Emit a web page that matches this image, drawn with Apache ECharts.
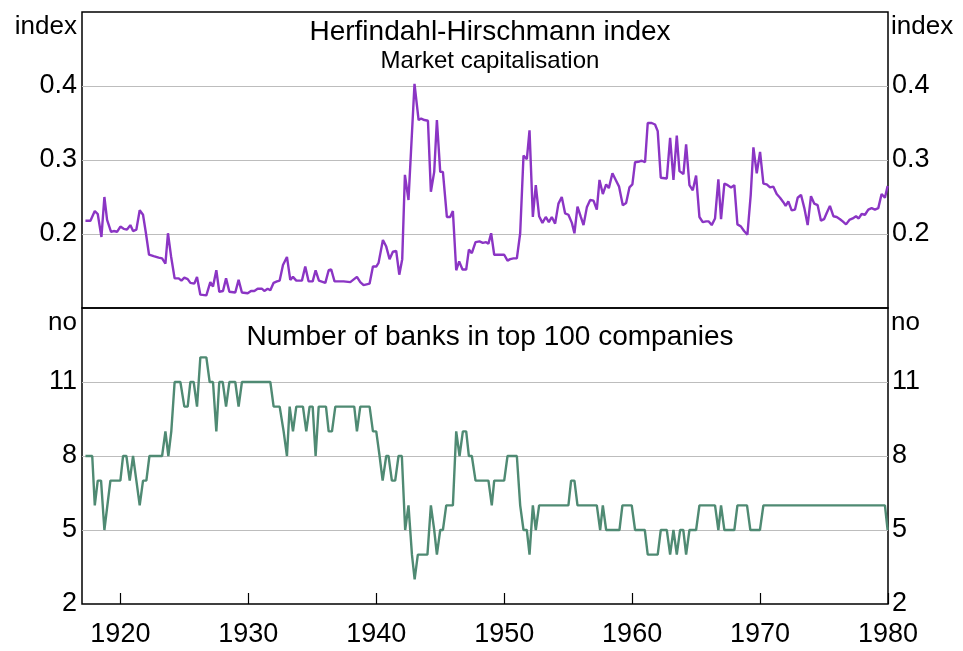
<!DOCTYPE html>
<html>
<head>
    <meta charset="utf-8">
    <title>HHI and number of banks</title>
    <script type="text/javascript" src="https://cdn.jsdelivr.net/npm/echarts@6/dist/echarts.min.js"></script>
    <style>
        body { margin: 0; background: #fff; }
    </style>
</head>
<body>
    <div id="main" style="width:963px; height:651px;"></div>
    <script type="text/javascript">

    // 上图：HHI（市值）
    var hhiYears = [
        1917.27, 1917.66, 1918.0, 1918.23, 1918.52, 1918.75, 1918.96, 1919.27, 1919.48, 1919.74,
        1920.0, 1920.26, 1920.52, 1920.78, 1920.99, 1921.25, 1921.51, 1921.77, 1921.98, 1922.24,
        1922.6, 1922.99, 1923.26, 1923.52, 1923.72, 1923.96, 1924.24, 1924.56, 1924.77, 1925.0,
        1925.26, 1925.47, 1925.78, 1925.99, 1926.25, 1926.72, 1927.03, 1927.24, 1927.5, 1927.73,
        1928.02, 1928.26, 1928.52, 1928.98, 1929.24, 1929.5, 1929.95, 1930.21, 1930.47, 1930.73,
        1931.07, 1931.25, 1931.51, 1931.72, 1931.98, 1932.24, 1932.45, 1932.71, 1933.02, 1933.28,
        1933.49, 1933.75, 1934.19, 1934.45, 1934.71, 1935.03, 1935.26, 1935.52, 1936.02, 1936.28,
        1936.48, 1936.74, 1937.45, 1937.97, 1938.49, 1938.75, 1939.01, 1939.48, 1939.74, 1940.0,
        1940.18, 1940.52, 1940.78, 1941.04, 1941.3, 1941.56, 1941.8, 1942.03, 1942.24, 1942.52,
        1942.99, 1943.31, 1943.51, 1943.77, 1944.04, 1944.27, 1944.53, 1944.74, 1945.0, 1945.21,
        1945.52, 1945.78, 1945.99, 1946.25, 1946.48, 1946.74, 1947.03, 1947.24, 1947.47, 1947.76,
        1948.07, 1948.33, 1948.59, 1948.77, 1948.98, 1949.22, 1949.69, 1950.0, 1950.26, 1950.47,
        1950.73, 1950.99, 1951.25, 1951.51, 1951.77, 1951.98, 1952.24, 1952.47, 1952.73, 1952.99,
        1953.25, 1953.49, 1953.72, 1953.98, 1954.24, 1954.5, 1954.76, 1955.02, 1955.29, 1955.49,
        1955.73, 1955.99, 1956.2, 1956.46, 1956.72, 1956.98, 1957.24, 1957.45, 1957.71, 1957.97,
        1958.18, 1958.46, 1958.72, 1958.98, 1959.27, 1959.53, 1959.79, 1960.02, 1960.23, 1960.57,
        1960.75, 1961.01, 1961.22, 1961.53, 1961.79, 1962.0, 1962.24, 1962.71, 1962.97, 1963.23,
        1963.49, 1963.7, 1964.01, 1964.22, 1964.48, 1964.74, 1965.0, 1965.26, 1965.52, 1965.78,
        1965.99, 1966.22, 1966.48, 1966.74, 1966.95, 1967.21, 1967.47, 1967.73, 1967.99, 1968.23,
        1968.51, 1968.75, 1969.01, 1969.27, 1969.48, 1969.74, 1970.0, 1970.26, 1970.52, 1970.78,
        1971.04, 1971.3, 1971.56, 1971.82, 1972.0, 1972.21, 1972.47, 1972.73, 1972.94, 1973.2,
        1973.46, 1973.72, 1973.98, 1974.24, 1974.5, 1974.76, 1975.0, 1975.2, 1975.46, 1975.73,
        1975.99, 1976.25, 1976.46, 1976.72, 1976.98, 1977.24, 1977.5, 1977.71, 1977.94, 1978.2,
        1978.46, 1978.72, 1978.98, 1979.24, 1979.5, 1979.76, 1979.97
    ];
    var hhiValues = [
        0.218, 0.218, 0.231, 0.227, 0.196, 0.250, 0.219, 0.203, 0.204, 0.203,
        0.210, 0.207, 0.206, 0.212, 0.204, 0.206, 0.232, 0.226, 0.203, 0.172,
        0.170, 0.168, 0.167, 0.160, 0.201, 0.170, 0.140, 0.140, 0.137, 0.141,
        0.139, 0.134, 0.133, 0.142, 0.118, 0.117, 0.135, 0.129, 0.151, 0.122,
        0.123, 0.140, 0.122, 0.121, 0.138, 0.121, 0.120, 0.123, 0.123, 0.126,
        0.126, 0.123, 0.126, 0.124, 0.134, 0.136, 0.137, 0.158, 0.169, 0.138,
        0.142, 0.137, 0.137, 0.156, 0.136, 0.136, 0.151, 0.137, 0.134, 0.151,
        0.152, 0.136, 0.136, 0.135, 0.142, 0.135, 0.131, 0.133, 0.156, 0.156,
        0.161, 0.192, 0.183, 0.166, 0.176, 0.177, 0.145, 0.166, 0.280, 0.246,
        0.403, 0.354, 0.356, 0.354, 0.353, 0.257, 0.284, 0.354, 0.284, 0.284,
        0.223, 0.223, 0.231, 0.151, 0.163, 0.152, 0.152, 0.179, 0.174, 0.189,
        0.190, 0.188, 0.189, 0.187, 0.201, 0.172, 0.172, 0.172, 0.164, 0.166,
        0.167, 0.167, 0.201, 0.306, 0.301, 0.340, 0.223, 0.266, 0.224, 0.215,
        0.223, 0.216, 0.223, 0.214, 0.241, 0.250, 0.228, 0.226, 0.215, 0.201,
        0.237, 0.223, 0.212, 0.236, 0.246, 0.245, 0.233, 0.273, 0.254, 0.267,
        0.262, 0.282, 0.273, 0.264, 0.239, 0.242, 0.263, 0.267, 0.297, 0.298,
        0.299, 0.297, 0.350, 0.350, 0.348, 0.339, 0.276, 0.275, 0.330, 0.273,
        0.333, 0.285, 0.281, 0.321, 0.266, 0.259, 0.279, 0.223, 0.216, 0.217,
        0.217, 0.212, 0.221, 0.274, 0.220, 0.268, 0.266, 0.263, 0.266, 0.213,
        0.210, 0.204, 0.199, 0.253, 0.317, 0.282, 0.311, 0.268, 0.267, 0.263,
        0.264, 0.254, 0.249, 0.243, 0.238, 0.244, 0.232, 0.233, 0.249, 0.253,
        0.235, 0.212, 0.251, 0.241, 0.239, 0.218, 0.220, 0.228, 0.238, 0.224,
        0.223, 0.220, 0.217, 0.213, 0.219, 0.221, 0.224, 0.221, 0.227, 0.226,
        0.233, 0.235, 0.233, 0.235, 0.254, 0.249, 0.265
    ];

    // 下图：前100家公司中的银行数量
    var bankYears = [
        1917.27, 1917.8, 1918.0, 1918.23, 1918.49, 1918.75, 1919.22, 1920.0, 1920.21, 1920.47,
        1920.73, 1920.99, 1921.25, 1921.51, 1921.77, 1922.03, 1922.27, 1923.26, 1923.52, 1923.75,
        1923.98, 1924.24, 1924.69, 1925.0, 1925.26, 1925.47, 1925.73, 1925.99, 1926.25, 1926.72,
        1926.98, 1927.24, 1927.5, 1927.73, 1928.0, 1928.26, 1928.52, 1928.98, 1929.24, 1929.5,
        1931.72, 1931.98, 1932.45, 1932.76, 1933.02, 1933.23, 1933.49, 1933.75, 1934.27, 1934.53,
        1934.79, 1935.03, 1935.26, 1935.5, 1936.07, 1936.28, 1936.54, 1936.8, 1938.28, 1938.49,
        1938.75, 1939.48, 1939.74, 1940.0, 1940.26, 1940.5, 1940.78, 1940.96, 1941.22, 1941.48,
        1941.74, 1942.0, 1942.26, 1942.52, 1942.79, 1943.0, 1943.25, 1944.0, 1944.27, 1944.53,
        1944.74, 1945.0, 1945.21, 1945.47, 1945.99, 1946.25, 1946.51, 1946.77, 1947.03, 1947.24,
        1947.47, 1947.76, 1948.77, 1949.03, 1949.22, 1950.0, 1950.26, 1950.99, 1951.25, 1951.51,
        1951.77, 1951.98, 1952.24, 1952.47, 1952.73, 1955.02, 1955.23, 1955.49, 1955.73, 1957.24,
        1957.5, 1957.71, 1957.97, 1959.01, 1959.24, 1959.97, 1960.23, 1960.99, 1961.22, 1962.0,
        1962.24, 1962.71, 1962.97, 1963.23, 1963.49, 1963.75, 1964.0, 1964.22, 1964.48, 1965.0,
        1965.26, 1966.48, 1966.74, 1966.95, 1967.21, 1967.99, 1968.23, 1968.98, 1969.24, 1969.99,
        1970.26, 1979.76, 1979.97
    ];
    var bankValues = [
        8, 8, 6, 7, 7, 5, 7, 7, 8, 8,
        7, 8, 7, 6, 7, 7, 8, 8, 9, 8,
        9, 11, 11, 10, 10, 11, 11, 10, 12, 12,
        11, 11, 9, 11, 11, 10, 11, 11, 10, 11,
        11, 10, 10, 9, 8, 10, 9, 10, 10, 9,
        10, 10, 8, 10, 10, 9, 9, 10, 10, 9,
        10, 10, 9, 9, 8, 7, 8, 8, 7, 7,
        8, 8, 5, 6, 4, 3, 4, 4, 6, 5,
        4, 5, 5, 6, 6, 9, 8, 9, 9, 8,
        8, 7, 7, 6, 7, 7, 8, 8, 6, 5,
        5, 4, 6, 5, 6, 6, 7, 7, 6, 6,
        5, 6, 5, 5, 6, 6, 5, 5, 4, 4,
        5, 5, 4, 5, 4, 5, 5, 4, 5, 5,
        6, 6, 5, 6, 5, 5, 6, 6, 5, 5,
        6, 6, 5
    ];

    var yearTicks = [1920, 1930, 1940, 1950, 1960, 1970, 1980];
    var hhiGrid = [0.1, 0.2, 0.3, 0.4, 0.5];
    var hhiLabels = [0.2, 0.3, 0.4];
    var bankGrid = [2, 5, 8, 11, 14];
    var bankLabels = [2, 5, 8, 11];

    function pairs(xs, ys) {
        var out = [];
        for (var i = 0; i < xs.length; i++) {
            out.push([xs[i], ys[i]]);
        }
        return out;
    }

    var FONT = "'Liberation Sans', Arial, sans-serif";
    var gridCol = '#bdbdbd';

    var myChart = echarts.init(document.getElementById('main'), null, {renderer: 'canvas'});

    // 左右两侧的y轴（共用设置）
    function yAxisFor(gridIndex, pos, opts) {
        var left = pos === 'left';
        return {
            type: 'value',
            gridIndex: gridIndex,
            position: pos,
            min: opts.min,
            max: opts.max,
            name: opts.name,
            nameLocation: 'end',
            nameGap: -15,
            nameTextStyle: {
                fontFamily: FONT,
                fontSize: 26,
                color: '#000',
                align: left ? 'right' : 'left',
                verticalAlign: 'middle',
                padding: left ? [0, 5, 0, 0] : [0, 0, 0, 3]
            },
            axisLine: {show: false},
            axisTick: {show: false, customValues: opts.ticks},
            splitLine: {
                show: left,
                showMinLine: false,
                showMaxLine: false,
                lineStyle: {color: gridCol, width: 1}
            },
            axisLabel: {
                fontFamily: FONT,
                fontSize: 27,
                color: '#000',
                margin: left ? 5 : 4,
                customValues: opts.labels,
                formatter: function (v) { return String(v); }
            }
        };
    }

    var option = {
        animation: false,
        backgroundColor: '#fff',
        title: [{
            text: 'Herfindahl-Hirschmann index',
            subtext: 'Market capitalisation',
            left: 485,
            textAlign: 'center',
            top: 13,
            itemGap: 3,
            textStyle: {fontFamily: FONT, fontSize: 28, fontWeight: 'normal', color: '#000'},
            subtextStyle: {fontFamily: FONT, fontSize: 24, color: '#000'}
        }, {
            text: 'Number of banks in top 100 companies',
            left: 485,
            textAlign: 'center',
            top: 318,
            textStyle: {fontFamily: FONT, fontSize: 28, fontWeight: 'normal', color: '#000'}
        }],
        grid: [{
            left: 82, right: 75, top: 12, height: 296,
            show: true, borderColor: '#000', borderWidth: 1.5, backgroundColor: 'transparent'
        }, {
            left: 82, right: 75, top: 308, height: 296,
            show: true, borderColor: '#000', borderWidth: 1.5, backgroundColor: 'transparent'
        }],
        xAxis: [{
            type: 'value', gridIndex: 0, min: 1917, max: 1980,
            axisLine: {show: false}, axisTick: {show: false},
            axisLabel: {show: false}, splitLine: {show: false}
        }, {
            type: 'value', gridIndex: 1, min: 1917, max: 1980,
            axisLine: {show: false},
            axisTick: {show: true, inside: true, length: 11, customValues: yearTicks,
                lineStyle: {color: '#000', width: 1.2}},
            axisLabel: {
                fontFamily: FONT, fontSize: 27, color: '#000', margin: 17,
                customValues: yearTicks,
                formatter: function (v) { return String(v); }
            },
            splitLine: {show: false}
        }],
        yAxis: [
            yAxisFor(0, 'left', {min: 0.1, max: 0.5, name: 'index', ticks: hhiGrid, labels: hhiLabels}),
            yAxisFor(0, 'right', {min: 0.1, max: 0.5, name: 'index', ticks: hhiGrid, labels: hhiLabels}),
            yAxisFor(1, 'left', {min: 2, max: 14, name: 'no', ticks: bankGrid, labels: bankLabels}),
            yAxisFor(1, 'right', {min: 2, max: 14, name: 'no', ticks: bankGrid, labels: bankLabels})
        ],
        series: [{
            name: 'HHI',
            type: 'line',
            xAxisIndex: 0,
            yAxisIndex: 0,
            showSymbol: false,
            lineStyle: {color: '#8b35c4', width: 2.4},
            data: pairs(hhiYears, hhiValues)
        }, {
            name: 'Banks',
            type: 'line',
            xAxisIndex: 1,
            yAxisIndex: 2,
            showSymbol: false,
            lineStyle: {color: '#4f8a73', width: 2.4},
            data: pairs(bankYears, bankValues)
        }]
    };

    myChart.setOption(option);
    </script>
</body>
</html>
